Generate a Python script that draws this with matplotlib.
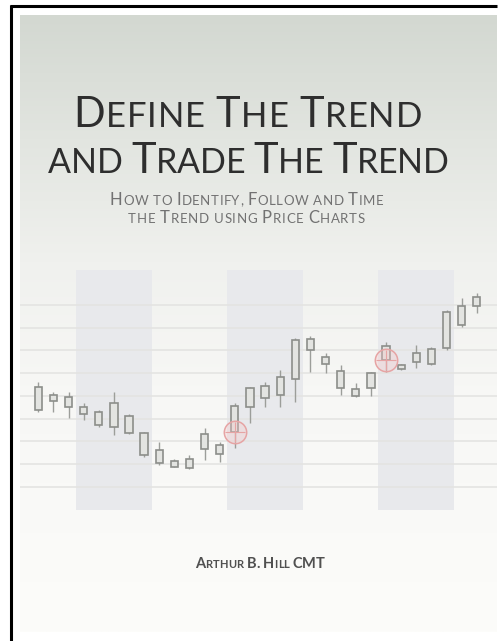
import numpy as np
import matplotlib
matplotlib.use("Agg")
import matplotlib.pyplot as plt
from matplotlib.patches import Rectangle
from matplotlib.lines import Line2D

# ---------------- data ----------------
idx = list(range(30))
opens  = [110, 119, 123, 113, 108,  93, 104,  87,  70,  59,  52,  71,  66,  88, 113, 122, 125, 141, 181, 163, 149, 124, 132, 160, 151, 158, 156, 172, 195, 214]
closes = [133, 125, 113, 106,  95, 117,  87,  65,  57,  53,  61,  86,  75, 114, 132, 134, 143, 180, 170, 156, 132, 131, 147, 174, 155, 167, 171, 208, 214, 223]
highs  = [138, 128, 128, 117, 110, 128, 106,  88,  78,  61,  65,  92,  78, 117, 133, 138, 150, 182, 184, 167, 155, 137, 148, 178, 156, 175, 173, 210, 222, 227]
lows   = [108, 108, 102, 100,  93,  85,  86,  63,  55,  53,  51,  60,  58,  72,  97, 113, 113, 118, 148, 147, 125, 123, 124, 148, 150, 152, 155, 170, 193, 207]
signal_idx = [13, 23]
signal_price = [88, 160]
band_starts = [2.5, 12.5, 22.5]
band_len = 5
grid_levels = [33, 56, 79, 101, 124, 147, 170, 192, 215]

title1 = [("D", 1), ("EFINE", 0), (" ", 0), ("T", 1), ("HE", 0), (" ", 0), ("T", 1), ("REND", 0)]
title2 = [("AND", 0), (" ", 0), ("T", 1), ("RADE", 0), (" ", 0), ("T", 1), ("HE", 0), (" ", 0), ("T", 1), ("REND", 0)]
sub1 = [("H", 1), ("OW TO", 0), (" ", 0), ("I", 1), ("DENTIFY,", 0), (" ", 0), ("F", 1), ("OLLOW AND", 0), (" ", 0), ("T", 1), ("IME", 0)]
sub2 = [("THE", 0), (" ", 0), ("T", 1), ("REND USING", 0), (" ", 0), ("P", 1), ("RICE", 0), (" ", 0), ("C", 1), ("HARTS", 0)]
author = [("A", 1), ("RTHUR", 0), (" ", 0), ("B.", 1), (" ", 0), ("H", 1), ("ILL", 0), (" ", 0), ("CMT", 1)]

W, H = 499, 641
fig = plt.figure(figsize=(W / 100, H / 100), dpi=100)
fig.patch.set_facecolor("white")

# background axes in pixel units
bg = fig.add_axes([0, 0, 1, 1])
bg.axis("off")

# cover gradient
cx0, cx1, cy0, cy1 = 20, 497, 15, 632
stops_t = [0.0, 0.2, 0.4, 0.6, 1.0]
stops_c = np.array([[211, 216, 209], [226, 229, 224], [240, 241, 238], [247, 247, 245], [252, 252, 250]]) / 255.0
tt = np.linspace(0, 1, 300)
grad = np.stack([np.interp(tt, stops_t, stops_c[:, k]) for k in range(3)], axis=-1)
grad = np.repeat(grad[:, None, :], 4, axis=1)
bg.imshow(grad, extent=(cx0, cx1, cy1, cy0), aspect="auto", interpolation="bilinear", zorder=0)
bg.set_xlim(0, W)
bg.set_ylim(H, 0)

# frame lines (top and left)
bg.add_line(Line2D([10, 497], [6, 6], color="black", lw=2.2, zorder=5, solid_capstyle="butt"))
bg.add_line(Line2D([11, 11], [5, H], color="black", lw=2.2, zorder=5, solid_capstyle="butt"))

# ---------------- chart ----------------
px_left, px_right, py_top, py_bot = 20, 497, 270, 510
ax = fig.add_axes([px_left / W, 1 - py_bot / H, (px_right - px_left) / W, (py_bot - py_top) / H])
ax.patch.set_alpha(0)
ax.set_xlim(-1.21, 30.34)
ax.set_ylim(10, 250)
for s in ax.spines.values():
    s.set_visible(False)
ax.set_xticks([])
ax.set_yticks(grid_levels)
ax.tick_params(left=False, labelleft=False)
ax.grid(axis="y", color="#e4e4e2", lw=1.2)
ax.set_axisbelow(True)

for b in band_starts:
    ax.axvspan(b, b + band_len, color="#e8e9ec", zorder=0.5, lw=0)

bw = 0.48
for i, o, h, l, c in zip(idx, opens, highs, lows, closes):
    ax.vlines(i, l, h, color="#9c9e9a", lw=1.0, zorder=2)
    lo, hi = min(o, c), max(o, c)
    ax.add_patch(Rectangle((i - bw / 2, lo), bw, hi - lo, facecolor="#e3e4e1",
                           edgecolor="#8c8e8a", lw=1.2, zorder=3))

ax.scatter(signal_idx, signal_price, s=260, facecolor=(0.96, 0.78, 0.78, 0.35),
           edgecolor="#e6a4a4", lw=1.1, zorder=4)
ax.scatter(signal_idx, signal_price, s=200, marker="+", color="#e6a4a4", lw=0.8, zorder=5)

# ---------------- text helper ----------------
fig.canvas.draw()
renderer = fig.canvas.get_renderer()


def draw_runs(runs, x_left, x_right, baseline, big, small, color, weight="normal", family="Lato"):
    chars = []
    for s, isbig in runs:
        for ch in s:
            chars.append((ch, big if isbig else small))
    items = []
    total = 0.0
    for ch, sz in chars:
        if ch == " ":
            w = 0.26 * sz * 100 / 72
            items.append((None, w))
        else:
            t = bg.text(0, baseline, ch, fontsize=sz, color=color, fontweight=weight,
                        family=family, va="baseline", ha="left", zorder=6)
            w = t.get_window_extent(renderer).width
            items.append((t, w))
        total += w
    n = len(items)
    track = (x_right - x_left - total) / max(n - 1, 1)
    x = x_left
    for t, w in items:
        if t is not None:
            t.set_x(x)
        x += w + track


title_col = "#2e2e2e"
draw_runs(title1, 73, 422, 126.7, 30, 25, title_col)
draw_runs(title2, 48, 449, 172.7, 30, 24.5, title_col)
sub_col = "#727272"
draw_runs(sub1, 110, 383, 205, 12, 9.5, sub_col)
draw_runs(sub2, 128, 365, 223, 12, 9.5, sub_col)
draw_runs(author, 195, 325, 568, 10.5, 8, "#505050", weight="bold")

fig.savefig("out.png", dpi=100)
